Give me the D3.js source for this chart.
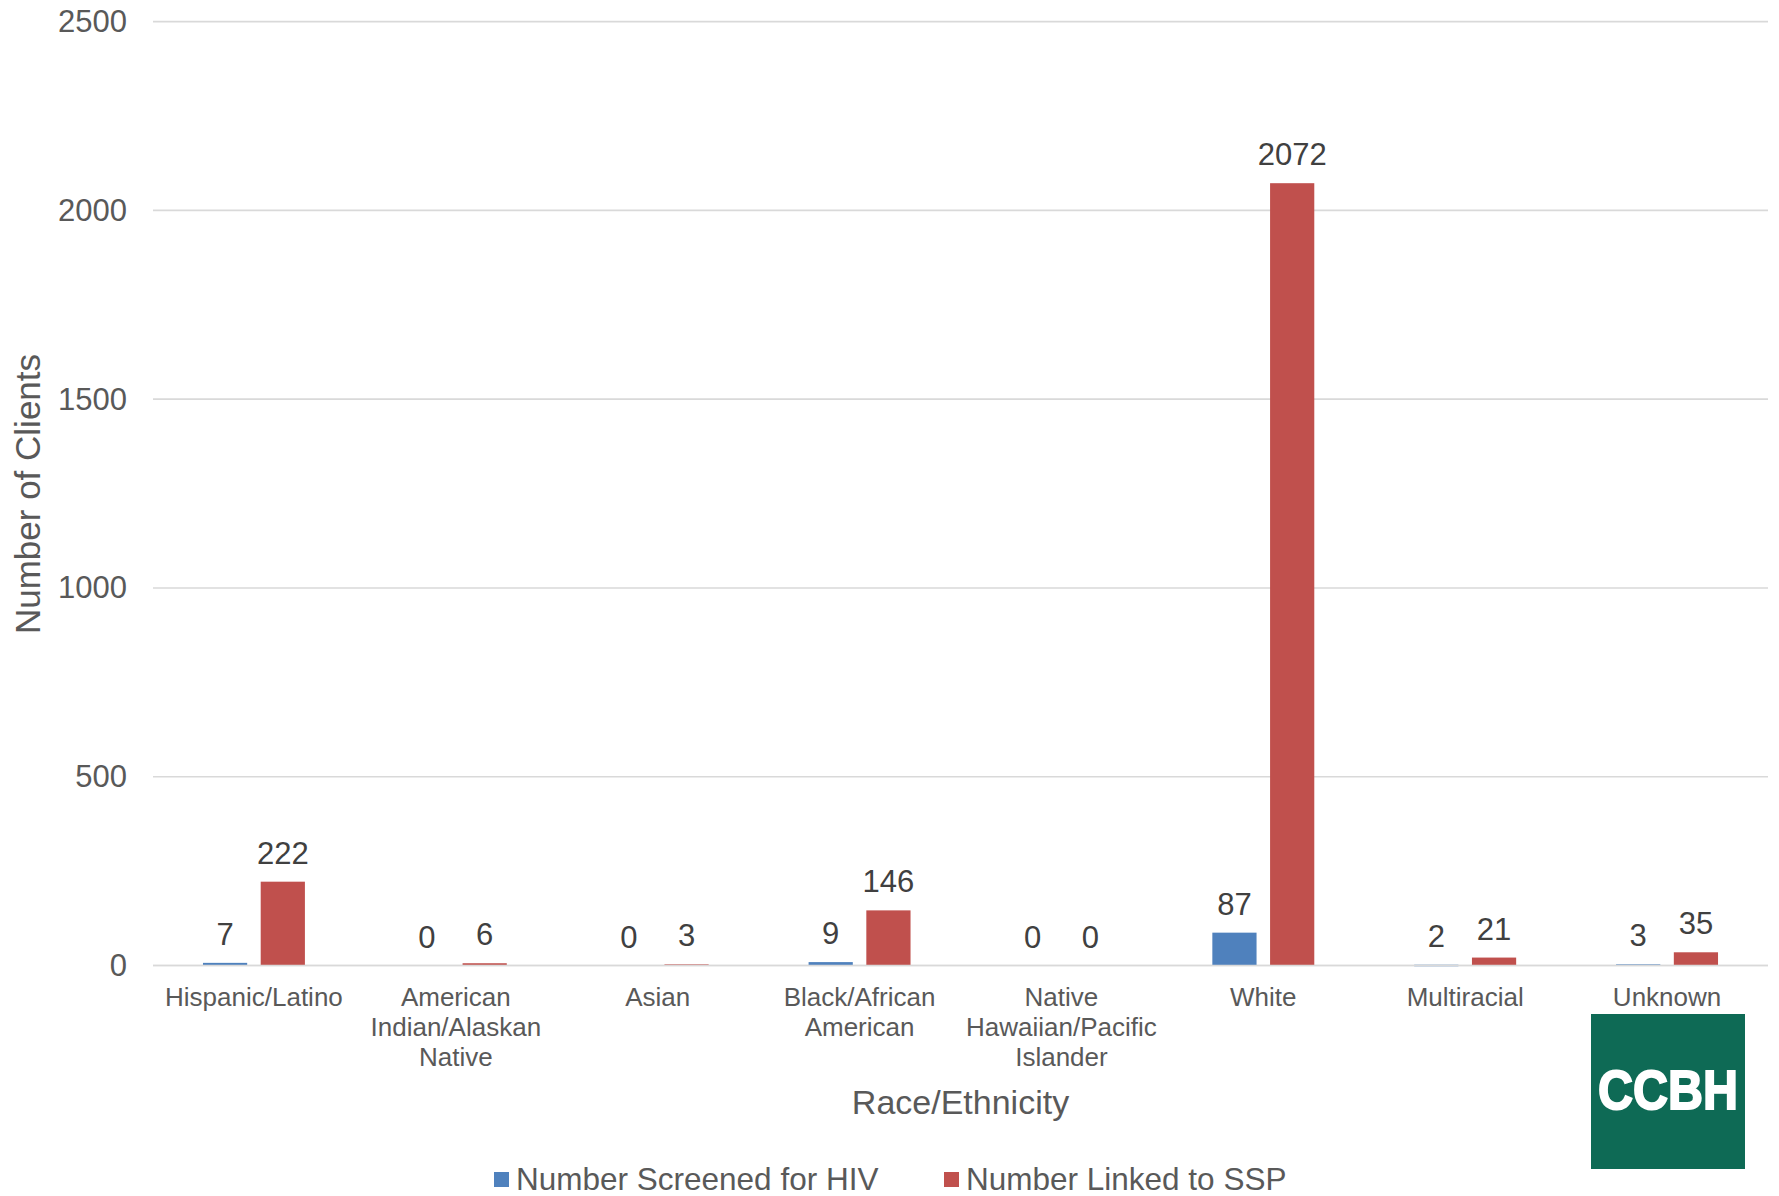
<!DOCTYPE html>
<html>
<head>
<meta charset="utf-8">
<script src="https://cdn.jsdelivr.net/npm/d3@7"></script>
<style>
  html, body { margin: 0; padding: 0; background: #ffffff; }
  svg { display: block; font-family: "Liberation Sans", Arial, sans-serif; }
</style>
</head>
<body>
<svg id="chart" width="1779" height="1196"></svg>
<script>
// Clients by race/ethnicity
const categories = [
  "Hispanic/Latino",
  "American Indian/Alaskan Native",
  "Asian",
  "Black/African American",
  "Native Hawaiian/Pacific Islander",
  "White",
  "Multiracial",
  "Unknown"
];
const categoryLines = [
  ["Hispanic/Latino"],
  ["American", "Indian/Alaskan", "Native"],
  ["Asian"],
  ["Black/African", "American"],
  ["Native", "Hawaiian/Pacific", "Islander"],
  ["White"],
  ["Multiracial"],
  ["Unknown"]
];
const screenedForHIV = [7, 0, 0, 9, 0, 87, 2, 3];
const linkedToSSP = [222, 6, 3, 146, 0, 2072, 21, 35];
const seriesNames = ["Number Screened for HIV", "Number Linked to SSP"];
const seriesColors = ["#4f81bd", "#c0504d"];
const yTicks = [0, 500, 1000, 1500, 2000, 2500];

const FONT = "Liberation Sans, Arial, sans-serif";
const svg = d3.select("#chart");
const margin = { left: 153, right: 1768, top: 21.6, bottom: 965.5 };

const x = d3.scaleBand().domain(categories).range([margin.left, margin.right]).padding(0);
const y = d3.scaleLinear().domain([0, 2500]).range([margin.bottom, margin.top]);

const barW = x.bandwidth() * 0.219;
const innerGap = x.bandwidth() * 0.067;

// horizontal gridlines
svg.append("g")
  .selectAll("line")
  .data(yTicks)
  .join("line")
  .attr("x1", margin.left)
  .attr("x2", margin.right)
  .attr("y1", d => y(d))
  .attr("y2", d => y(d))
  .attr("stroke", "#d9d9d9")
  .attr("stroke-width", 1.6);

// y axis labels
const yAxis = d3.axisLeft(y).tickValues(yTicks).tickFormat(d3.format("d")).tickSize(0).tickPadding(26);
const yg = svg.append("g").attr("transform", `translate(${margin.left},0)`).call(yAxis);
yg.attr("font-family", FONT);
yg.select(".domain").remove();
yg.selectAll("text")
  .attr("font-size", 31)
  .attr("fill", "#595959");

// bars
const series = [screenedForHIV, linkedToSSP];
const offsets = [-innerGap / 2 - barW, innerGap / 2];

series.forEach((vals, si) => {
  const g = svg.append("g");
  g.selectAll("rect")
    .data(vals.map((v, i) => ({ v, c: categories[i] })))
    .join("rect")
    .filter(d => d.v > 0)
    .attr("x", d => x(d.c) + x.bandwidth() / 2 + offsets[si])
    .attr("width", barW)
    .attr("y", d => y(d.v))
    .attr("height", d => Math.max(1.5, y(0) - y(d.v)))
    .attr("fill", seriesColors[si]);

  g.selectAll("text")
    .data(vals.map((v, i) => ({ v, c: categories[i] })))
    .join("text")
    .attr("x", d => x(d.c) + x.bandwidth() / 2 + offsets[si] + barW / 2)
    .attr("y", d => y(d.v) - 18)
    .attr("text-anchor", "middle")
    .attr("font-size", 31)
    .attr("fill", "#404040")
    .text(d => d.v);
});

// baseline
svg.append("line")
  .attr("x1", margin.left).attr("x2", margin.right)
  .attr("y1", y(0)).attr("y2", y(0))
  .attr("stroke", "#d9d9d9").attr("stroke-width", 1.6);

// category labels
const xg = svg.append("g");
categories.forEach((c, i) => {
  const t = xg.append("text")
    .attr("x", x(c) + x.bandwidth() / 2)
    .attr("y", 1006)
    .attr("text-anchor", "middle")
    .attr("font-size", 26)
    .attr("fill", "#595959");
  categoryLines[i].forEach((line, li) => {
    t.append("tspan")
      .attr("x", x(c) + x.bandwidth() / 2)
      .attr("dy", li === 0 ? 0 : 30)
      .text(line);
  });
});

// axis titles
svg.append("text")
  .attr("x", (margin.left + margin.right) / 2)
  .attr("y", 1114)
  .attr("text-anchor", "middle")
  .attr("font-size", 34)
  .attr("fill", "#595959")
  .text("Race/Ethnicity");

svg.append("text")
  .attr("transform", `translate(40,494) rotate(-90)`)
  .attr("text-anchor", "middle")
  .attr("font-size", 35)
  .attr("fill", "#595959")
  .text("Number of Clients");

// legend
const legendItems = [
  { name: seriesNames[0], color: seriesColors[0], x: 494 },
  { name: seriesNames[1], color: seriesColors[1], x: 944 }
];
const lg = svg.append("g");
legendItems.forEach(item => {
  lg.append("rect")
    .attr("x", item.x).attr("y", 1172)
    .attr("width", 15).attr("height", 15)
    .attr("fill", item.color);
  lg.append("text")
    .attr("x", item.x + 22)
    .attr("y", 1190)
    .attr("font-size", 31.5)
    .attr("fill", "#595959")
    .text(item.name);
});

// CCBH logo
const logo = svg.append("g");
logo.append("rect")
  .attr("x", 1591).attr("y", 1014)
  .attr("width", 154).attr("height", 155)
  .attr("fill", "#0e6a55");
logo.append("text")
  .attr("x", 1668).attr("y", 1109)
  .attr("text-anchor", "middle")
  .attr("font-size", 56)
  .attr("font-weight", "bold")
  .attr("textLength", 140)
  .attr("lengthAdjust", "spacingAndGlyphs")
  .attr("fill", "#ffffff")
  .attr("stroke", "#ffffff")
  .attr("stroke-width", 2)
  .text("CCBH");
</script>
</body>
</html>
